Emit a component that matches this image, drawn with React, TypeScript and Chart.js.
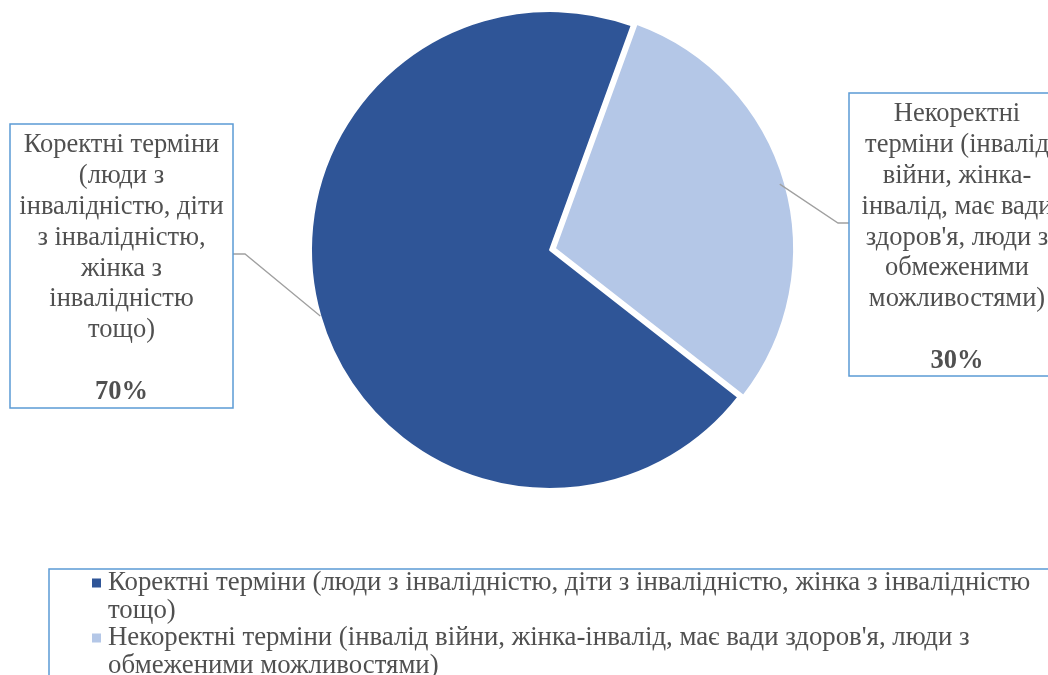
import React, { useEffect, useRef } from "react";
import { Chart, registerables } from "chart.js";

Chart.register(...registerables);

const CATEGORIES = [
  "Коректні терміни (люди з інвалідністю, діти з інвалідністю, жінка з інвалідністю тощо)",
  "Некоректні терміни (інвалід війни, жінка-інвалід, має вади здоров'я, люди з обмеженими можливостями)",
];
const VALUES = [70, 30];
const COLORS = ["#2f5597", "#b4c7e7"];

// Wrapped text of the data-label boxes (as in the reference)
const LABEL_LINES = [
  ["Коректні терміни", "(люди з", "інвалідністю, діти", "з інвалідністю,", "жінка з", "інвалідністю", "тощо)"],
  ["Некоректні", "терміни (інвалід", "війни, жінка-", "інвалід, має вади", "здоров'я, люди з", "обмеженими", "можливостями)"],
];
// Wrapped legend lines
const LEGEND_LINES = [
  ["Коректні терміни (люди з інвалідністю, діти з інвалідністю, жінка з інвалідністю", "тощо)"],
  ["Некоректні терміни (інвалід війни, жінка-інвалід, має вади здоров'я, люди з", "обмеженими можливостями)"],
];

const FONT = '"Liberation Serif", "Times New Roman", serif';
const TEXT_COLOR = "#505050";
const BOX_COLOR = "#5b9bd5";

const LABEL_BOXES = [
  { x: 10, y: 124, w: 223, h: 284, elbowX: 245, elbowY: 254, edgeX: 233 },
  { x: 849, y: 93, w: 216, h: 283, elbowX: 838, elbowY: 223, edgeX: 849 },
];

const overlayPlugin = {
  id: "overlay",
  afterDraw(chart: any) {
    const ctx = chart.ctx as CanvasRenderingContext2D;
    const meta = chart.getDatasetMeta(0);
    const total = VALUES.reduce((a, b) => a + b, 0);
    ctx.save();
    meta.data.forEach((arc: any, i: number) => {
      const p = arc.getProps(["x", "y", "startAngle", "endAngle", "outerRadius"], true);
      const mid = (p.startAngle + p.endAngle) / 2;
      const ax = p.x + Math.cos(mid) * p.outerRadius;
      const ay = p.y + Math.sin(mid) * p.outerRadius;
      const b = LABEL_BOXES[i];
      // leader line
      ctx.strokeStyle = "#a0a0a0";
      ctx.lineWidth = 1.3;
      ctx.beginPath();
      ctx.moveTo(ax, ay);
      ctx.lineTo(b.elbowX, b.elbowY);
      ctx.lineTo(b.edgeX, b.elbowY);
      ctx.stroke();
      // box
      ctx.fillStyle = "#ffffff";
      ctx.fillRect(b.x, b.y, b.w, b.h);
      ctx.strokeStyle = BOX_COLOR;
      ctx.lineWidth = 1.5;
      ctx.strokeRect(b.x, b.y, b.w, b.h);
      // text
      ctx.fillStyle = TEXT_COLOR;
      ctx.textAlign = "center";
      ctx.textBaseline = "middle";
      const cx = b.x + b.w / 2;
      const lh = 30.9;
      const y0 = b.y + 21;
      ctx.font = `26.5px ${FONT}`;
      LABEL_LINES[i].forEach((t, k) => ctx.fillText(t, cx, y0 + k * lh));
      ctx.font = `bold 26.5px ${FONT}`;
      const pct = Math.round((VALUES[i] / total) * 100) + "%";
      ctx.fillText(pct, cx, y0 + (LABEL_LINES[i].length + 1) * lh);
    });

    // legend
    ctx.strokeStyle = BOX_COLOR;
    ctx.lineWidth = 1.5;
    ctx.strokeRect(49, 569, 1100, 200);
    ctx.textAlign = "left";
    ctx.textBaseline = "middle";
    ctx.font = `26.8px ${FONT}`;
    const legLh = 27.5;
    let y = 583;
    LEGEND_LINES.forEach((lines, i) => {
      ctx.fillStyle = COLORS[i];
      ctx.fillRect(92, y - 4.5, 9, 9);
      ctx.fillStyle = TEXT_COLOR;
      lines.forEach((t) => {
        ctx.fillText(t, 108, y);
        y += legLh;
      });
    });
    ctx.restore();
  },
};

export default function App() {
  const ref = useRef<HTMLCanvasElement | null>(null);
  useEffect(() => {
    if (!ref.current) return;
    const chart = new Chart(ref.current, {
      type: "pie",
      data: {
        labels: CATEGORIES,
        datasets: [
          {
            data: VALUES,
            backgroundColor: COLORS,
            borderColor: "#ffffff",
            borderWidth: 2,
            offset: [0, 20],
          },
        ],
      },
      options: {
        responsive: false,
        animation: false,
        devicePixelRatio: 1,
        rotation: 128,
        radius: 239,
        layout: { padding: { left: 300, right: 248, top: 0, bottom: 175 } },
        plugins: { legend: { display: false }, tooltip: { enabled: false } },
      } as any,
      plugins: [overlayPlugin],
    });
    return () => chart.destroy();
  }, []);
  return (
    <div style={{ position: "fixed", left: 0, top: 0, width: 1048, height: 675, background: "#fff" }}>
      <canvas ref={ref} width={1048} height={675} style={{ width: 1048, height: 675, display: "block" }} />
    </div>
  );
}
